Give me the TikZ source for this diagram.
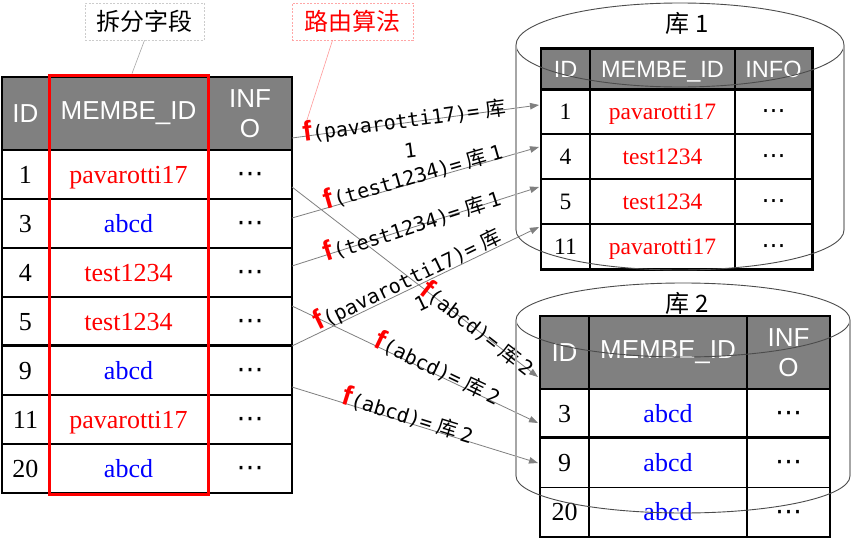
\documentclass[tikz,border=0pt]{standalone}
\usepackage{fontspec}
\setmainfont{Liberation Serif}
\setsansfont{Liberation Sans}
\setmonofont{DejaVu Sans Mono}
\newfontfamily\cjk{Noto Sans CJK SC}
\newfontfamily\dejavu{DejaVu Sans}
\usetikzlibrary{arrows.meta}
\definecolor{hdrgray}{RGB}{128,128,128}
\definecolor{vblue}{RGB}{0,0,255}
\definecolor{vred}{RGB}{255,0,0}
\newcommand\myfs[2]{\fontsize{#1}{#2}\selectfont}
\newcommand\mydots{{\dejavu ⋯}}
\newcommand\flab[2]{\textcolor{vred}{\sffamily\bfseries\myfs{28}{30}f}{\ttfamily\myfs{20}{22}(#1)=}\hspace{6pt}{\cjk\myfs{20.5}{22}库}\hspace{4pt}{\ttfamily\myfs{20}{22}#2}}
\begin{document}
\begin{tikzpicture}[x=1pt,y=-1pt,
 cell/.style={draw=black, line width=1.3pt, inner sep=0pt, anchor=center},
 bodyL/.style={cell, text height=20pt, text depth=3pt},
 bodyS/.style={cell, text height=18pt, text depth=2.5pt},
 dotcell/.style={cell, text height=16pt, text depth=0pt},
 hdr/.style={cell, fill=hdrgray, text=white, align=center},
 arr/.style={draw=gray, line width=0.8pt, -{Triangle[length=9pt,width=6.5pt]}},
 lab/.style={inner sep=0pt, anchor=center},
 cylline/.style={draw=black!70, line width=0.9pt},
 cylside/.style={draw=black!35, line width=1.6pt},
 note/.style={inner sep=0pt, minimum height=37pt, dash pattern=on 2pt off 1.5pt, line width=0.6pt},
]
\useasboundingbox (0,0) rectangle (852,538);
\fill[white] (0,0) rectangle (852,538);

% ---------- left table ----------
\node[hdr, font=\sffamily\myfs{26}{30}, minimum width=47pt, minimum height=73pt] (LhA) at (25.5,113.5) {ID};
\node[hdr, font=\sffamily\myfs{26}{30}, minimum width=159pt, minimum height=73pt] (LhB) at (128.5,113.5) {MEMBE\_ID};
\node[hdr, font=\sffamily\myfs{26}{30}, minimum width=84pt, minimum height=73pt] (LhC) at (250,113.5) {INF\\O};
\foreach \k/\id/\txt/\col in {1/1/pavarotti17/vred, 2/3/abcd/vblue, 3/4/test1234/vred, 4/5/test1234/vred, 5/9/abcd/vblue, 6/11/pavarotti17/vred, 7/20/abcd/vblue}{
 \pgfmathsetmacro\yc{150+49*(\k-0.5)}
 \node[bodyL, font=\myfs{26}{30}, minimum width=47pt, minimum height=49pt] (L\k a) at (25.5,\yc) {\id};
 \node[bodyL, font=\myfs{26}{30}, text=\col, minimum width=159pt, minimum height=49pt] (L\k b) at (128.5,\yc) {\txt};
 \node[dotcell, font=\myfs{27}{30}, minimum width=84pt, minimum height=49pt] (L\k c) at (250,\yc) {\mydots};
}
\draw[black, line width=2.4pt] (L5a.north west) -- (L5c.north east);
\node[draw=vred, line width=3pt, inner sep=0pt, minimum width=159pt, minimum height=419pt] (redbox) at (128.5,284.5) {};

% ---------- table 1 ----------
\node[hdr, font=\sffamily\myfs{23.5}{27}, minimum width=49pt, minimum height=40pt, text height=17pt, text depth=1pt] (AhA) at (565.5,69) {ID};
\node[hdr, font=\sffamily\myfs{23.5}{27}, minimum width=145pt, minimum height=40pt, text height=17pt, text depth=1pt] (AhB) at (662.5,69) {MEMBE\_ID};
\node[hdr, font=\sffamily\myfs{23.5}{27}, minimum width=77pt, minimum height=40pt, text height=17pt, text depth=1pt] (AhC) at (773.5,69) {INFO};
\foreach \k/\id/\txt/\col in {1/1/pavarotti17/vred, 2/4/test1234/vred, 3/5/test1234/vred, 4/11/pavarotti17/vred}{
 \pgfmathsetmacro\yc{89+45*(\k-0.5)}
 \node[bodyS, font=\myfs{23.5}{27}, minimum width=49pt, minimum height=45pt] (A\k a) at (565.5,\yc) {\id};
 \node[bodyS, font=\myfs{23.5}{27}, text=\col, minimum width=145pt, minimum height=45pt] (A\k b) at (662.5,\yc) {\txt};
 \node[dotcell, text height=14.5pt, font=\myfs{24}{27}, minimum width=77pt, minimum height=45pt] (A\k c) at (773.5,\yc) {\mydots};
}
\draw[black, line width=2.2pt] (AhA.north west) -- (AhC.north east) -- (A4c.south east) -- (A4a.south west);
\draw[black, line width=2.2pt] (AhA.south west) -- (AhC.south east);

% ---------- table 2 ----------
\node[hdr, font=\sffamily\myfs{26}{30}, minimum width=49pt, minimum height=73pt] (BhA) at (564.5,352.5) {ID};
\node[hdr, font=\sffamily\myfs{26}{30}, minimum width=158pt, minimum height=73pt] (BhB) at (668,352.5) {MEMBE\_ID};
\node[hdr, font=\sffamily\myfs{26}{30}, minimum width=83pt, minimum height=73pt] (BhC) at (788.5,352.5) {INF\\O};
\foreach \k/\id/\txt/\col in {1/3/abcd/vblue, 2/9/abcd/vblue, 3/20/abcd/vblue}{
 \pgfmathsetmacro\yc{389+49.33*(\k-0.5)}
 \node[bodyL, font=\myfs{26}{30}, minimum width=49pt, minimum height=49.33pt] (B\k a) at (564.5,\yc) {\id};
 \node[bodyL, font=\myfs{26}{30}, text=\col, minimum width=158pt, minimum height=49.33pt] (B\k b) at (668,\yc) {\txt};
 \node[dotcell, font=\myfs{27}{30}, minimum width=83pt, minimum height=49.33pt] (B\k c) at (788.5,\yc) {\mydots};
}
\draw[black, line width=2.4pt] (B2a.north west) -- (B2c.north east);

% ---------- notes ----------
\node[note, draw=black!20, minimum width=119pt, font=\cjk\myfs{24}{28}] (lbl1) at (144.5,21.5) {拆分字段};
\node[note, draw=vred!35, minimum width=121pt, text=vred, font=\cjk\myfs{24}{28}] (lbl2) at (352.5,21.5) {路由算法};
\coordinate (fA) at (306,123);
\draw[black!35, line width=0.6pt] (lbl1.south) -- ([xshift=3.5pt]redbox.north);
\draw[vred!40, line width=0.6pt] ([xshift=-20pt]lbl2.south) -- (fA);

% ---------- arrows ----------
\coordinate (aS) at (292,138); \coordinate (aE) at (539,105);
\coordinate (bS) at (292,218); \coordinate (bE) at (539,147);
\coordinate (cS) at (292,266); \coordinate (cE) at (539,187);
\coordinate (dS) at (292,346); \coordinate (dE) at (539,227);
\coordinate (eS) at (292,187); \coordinate (eE) at (538,377);
\coordinate (fS) at (292,306); \coordinate (fE) at (538,423);
\coordinate (gS) at (292,387); \coordinate (gE) at (538,463);
\foreach \p in {a,b,c,d,e,f,g}{\draw[arr] (\p S) -- (\p E);}

\node[lab, rotate=7.6] (labA) at (404,120) {\flab{pavarotti17}{}};
\node[lab, rotate=7.6, font=\ttfamily\myfs{20}{22}] (labA1) at (410,150) {1};
\node[lab, rotate=16.1] (labB) at (413,175) {\flab{test1234}{1}};
\node[lab, rotate=17.8] (labC) at (412,225) {\flab{test1234}{1}};
\node[lab, rotate=25.8] (labD) at (407,279) {\flab{pavarotti17}{}};
\node[lab, rotate=25.8, font=\ttfamily\myfs{20}{22}] (labD1) at (421,303) {1};
\node[lab, rotate=-37.8] (labE) at (478,328) {\flab{abcd}{2}};
\node[lab, rotate=-25.5] (labF) at (438,368) {\flab{abcd}{2}};
\node[lab, rotate=-17.2] (labG) at (408,415) {\flab{abcd}{2}};

% ---------- cylinders ----------
\draw[cylline] (680,45) ellipse [x radius=164pt, y radius=42pt];
\draw[cylside] (516,45) -- (516,230);
\draw[cylside] (844,45) -- (844,230);
\draw[cylline] (516,230) arc[start angle=180, end angle=360, x radius=164pt, y radius=40pt];
\node[font=\cjk\myfs{24}{28}] (t1) at (687,23) {库 1};

\draw[cylline] (683,320) ellipse [x radius=167pt, y radius=37pt];
\draw[cylside] (516,320) -- (516,476);
\draw[cylside] (850,320) -- (850,476);
\draw[cylline] (516,476) arc[start angle=180, end angle=360, x radius=167pt, y radius=37pt];
\node[font=\cjk\myfs{24}{28}] (t2) at (687,303) {库 2};
\end{tikzpicture}
\end{document}
